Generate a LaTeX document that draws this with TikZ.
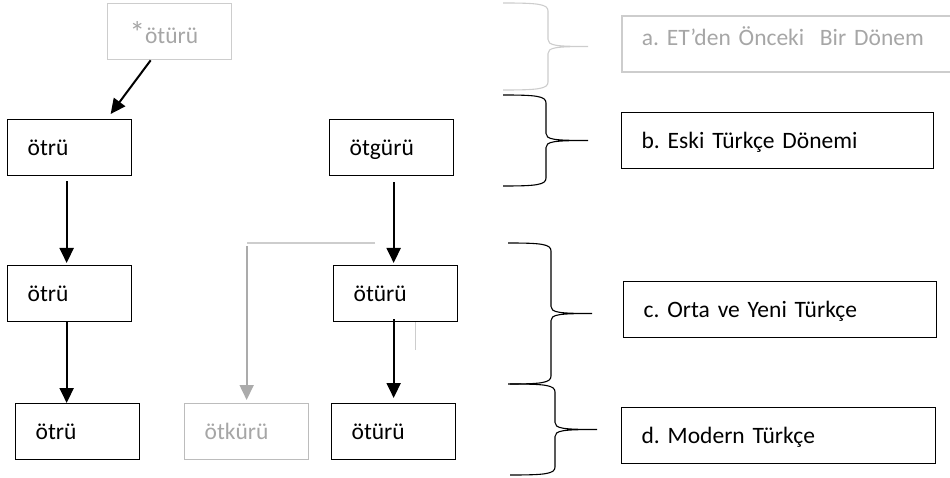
\documentclass[tikz,border=0pt]{standalone}
\usepackage{fontspec}
\setmainfont{Carlito}
\usetikzlibrary{arrows.meta}

\definecolor{faderule}{HTML}{CDCDCD}
\definecolor{fadetext}{HTML}{A6A6A6}
\definecolor{fadeline}{HTML}{ABABAB}

% curly bracket: colour, left end x, spine x, tip x, top y, bottom y
\newcommand{\periodbrace}[6]{%
  \draw[#1, line width=1.1pt]
    (#2,#5) .. controls ({#3-10},#5) and (#3,{#5+1}) .. (#3,{#5+8})
    -- (#3,{(#5+#6)/2-7}) .. controls (#3,{(#5+#6)/2-1}) and ({#3+8},{(#5+#6)/2}) .. (#4,{(#5+#6)/2})
    .. controls ({#3+8},{(#5+#6)/2}) and (#3,{(#5+#6)/2+1}) .. (#3,{(#5+#6)/2+7})
    -- (#3,{#6-8}) .. controls (#3,{#6-1}) and ({#3-10},#6) .. (#2,#6);}

\frenchspacing
\begin{document}
\begin{tikzpicture}[x=1pt, y=-1pt,
  every node/.style={font=\fontsize{23.5}{28}\selectfont},
  wordbox/.style={draw, line width=1.3pt, anchor=north west, inner xsep=20pt,
    text width=84pt, minimum height=56pt, text height=15pt, text depth=0pt, align=left},
  faded/.style={draw=faderule, text=fadetext},
  labelbox/.style={wordbox, inner xsep=20pt, text width=#1},
  flowarrow/.style={-{Triangle[length=15pt,width=14pt]}, line width=2pt},
  fadedarrow/.style={flowarrow, draw=fadeline, fill=fadeline, line width=1.7pt},
  fadedline/.style={draw=faderule, line width=1.6pt}]

  \clip (0,0) rectangle (950,478);

  \node[wordbox, faded, text height=24pt, inner xsep=22pt, text width=80pt] (proto) at (107,3)
    {{\fontsize{31}{31}\selectfont*}ötürü};
  \node[wordbox] (otru1) at (7,119) {ötrü};
  \node[wordbox] (otgur) at (329,119) {ötgürü};
  \node[wordbox] (otru2) at (7,265) {ötrü};
  \node[wordbox] (otur2) at (333,265) {ötürü};
  \node[wordbox] (otru3) at (15,403) {ötrü};
  \node[wordbox, draw=fadeline!80, text=fadetext] (otkur) at (184,403) {ötkürü};
  \node[wordbox] (otur3) at (331,403) {ötürü};

  \draw[flowarrow] ([xshift=-19pt]proto.south) -- ([xshift=41pt, yshift=5pt]otru1.north);
  \draw[flowarrow, shorten <=5pt, shorten >=2pt] ([xshift=-3pt]otru1.south) -- ([xshift=-3pt]otru2.north);
  \draw[flowarrow] ([xshift=-3pt]otru2.south) -- ([xshift=-3pt]otru2.south |- otru3.north);
  \draw[flowarrow, shorten <=6pt, shorten >=2pt] ([xshift=2pt]otgur.south) -- ([xshift=2pt]otgur.south |- otur2.north);
  \draw[flowarrow, shorten <=-3pt, shorten >=5pt] ([xshift=-2pt]otur2.south) -- ([xshift=-2pt]otur2.south |- otur3.north);

  \coordinate (split) at (375,243);
  \draw[fadedline] (split) -- (split -| otkur.north);
  \draw[fadedarrow, shorten >=3pt] (split -| otkur.north) ++(0,3) -- (otkur.north);
  \draw[draw=faderule, line width=1pt] ([xshift=20pt]otur2.south) -- ++(0,28);

  \periodbrace{faderule}{503}{548}{588}{3}{90}
  \periodbrace{black}{503}{546}{588}{95}{186}
  \periodbrace{black}{508}{551}{592}{243}{384}
  \periodbrace{black}{510}{555}{597}{384}{475}

  \node[labelbox=292pt, faded, line width=1.6pt, text height=3pt] (erapre) at (621,15) {a. ET’den Önceki\ \ Bir Dönem};
  \node[labelbox=272pt] (eraold) at (621,112) {b. Eski Türkçe Dönemi};
  \node[labelbox=273pt] (eramid) at (623,281) {c. Orta ve Yeni Türkçe};
  \node[labelbox=274pt] (eramod) at (621,407) {d. Modern Türkçe};
\end{tikzpicture}
\end{document}
